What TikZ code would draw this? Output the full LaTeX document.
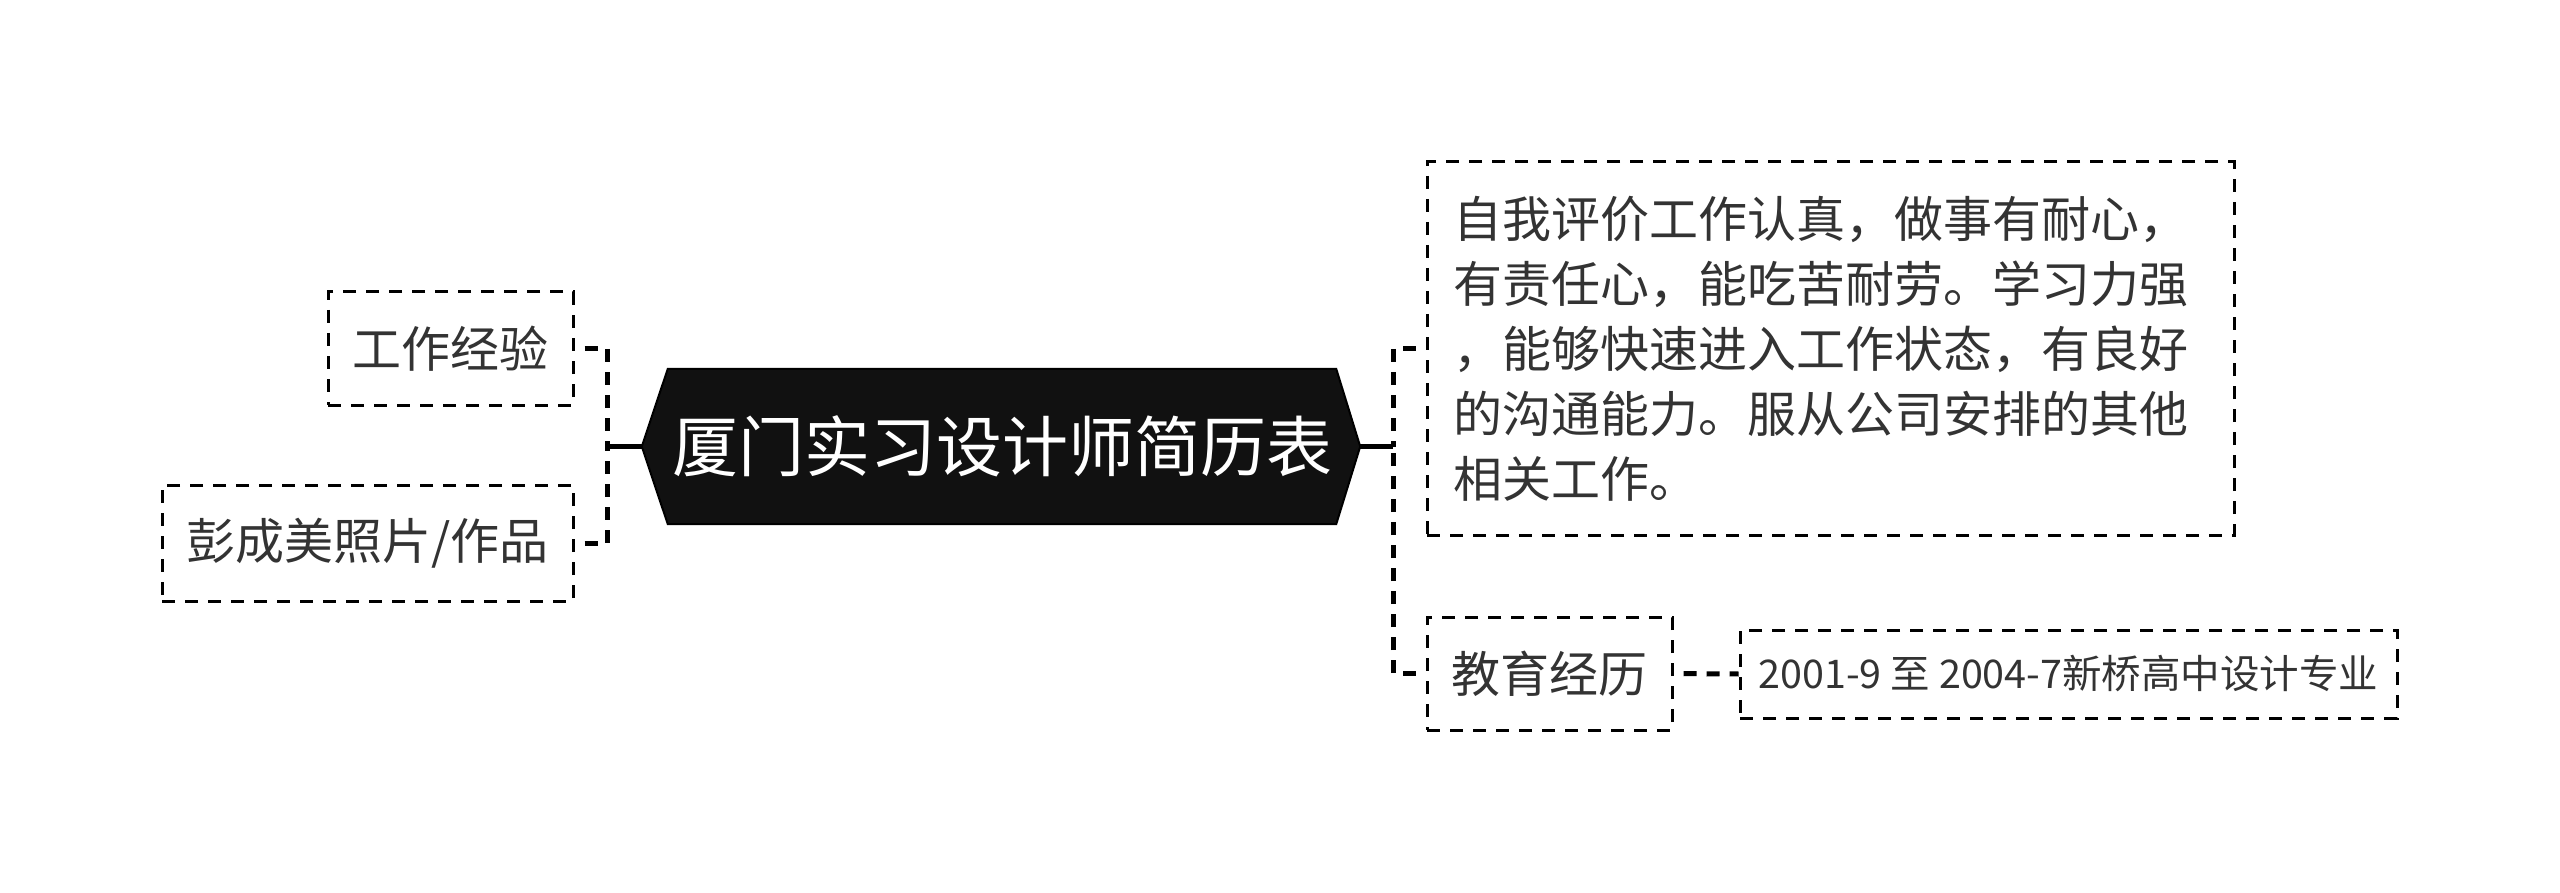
\documentclass[tikz,border=0pt]{standalone}
\usepackage{fontspec}
\newfontfamily\cjk{Noto Sans CJK SC}
\usetikzlibrary{calc,backgrounds}
\definecolor{txt}{HTML}{333333}
\definecolor{hexfill}{HTML}{111111}
\begin{document}
\begin{tikzpicture}[x=1pt,y=-1pt,
  dbox/.style={draw=black, line width=3pt, dash pattern=on 13pt off 10pt, inner sep=0pt, text=txt, font=\cjk\fontsize{49}{65}\selectfont},
  rootnode/.style={inner sep=0pt, text=white, font=\cjk\fontsize{66}{72}\selectfont, minimum width=668pt, minimum height=155pt},
  conn/.style={line width=5pt, draw=black},
  dconn/.style={conn, dash pattern=on 13pt off 10pt, dash phase=13pt},
]
\useasboundingbox (0,0) rectangle (2560,893);
% root
\node[rootnode] (root) at (1002,446.5) {厦门实习设计师简历表};
\coordinate (rootW) at ($(root.west)+(-26,0)$);
\coordinate (rootE) at ($(root.east)+(24,0)$);
\begin{scope}[on background layer]
\filldraw[fill=hexfill, draw=black, line width=2pt] (root.north west) -- (root.north east) -- (rootE) -- (root.south east) -- (root.south west) -- (rootW) -- cycle;
\end{scope}
% left children
\node[dbox, minimum width=245pt, minimum height=113pt] (w1) at (450.5,348.5) {工作经验};
\node[dbox, minimum width=411pt, minimum height=116pt] (w2) at (367.5,543) {彭成美照片/作品};
% right children
\node[dbox, minimum width=807pt, minimum height=373pt, text width=755pt, inner xsep=26pt, align=left] (r1) at (1830.5,348.5) {自我评价工作认真，做事有耐心，\\有责任心，能吃苦耐劳。学习力强\\，能够快速进入工作状态，有良好\\的沟通能力。服从公司安排的其他\\相关工作。};
\node[dbox, minimum width=245pt, minimum height=113pt] (r2) at (1549.5,673.5) {教育经历};
\node[dbox, minimum width=657pt, minimum height=88pt, font=\cjk\fontsize{39.5}{44}\selectfont] (r3) at (2068.5,674) {2001-9 至 2004-7新桥高中设计专业};
% connectors
\coordinate (ls) at (607,446.5);
\coordinate (rs) at (1393,446.5);
\draw[conn] (rootW) -- (ls);
\draw[dconn] (w1.east) -| (ls);
\draw[dconn] (w2.east) -| (ls);
\draw[conn] (rootE) -- (rs);
\draw[dconn] (r1.west) -| (rs);
\draw[dconn] (r2.west) -| (rs);
\draw[dconn] (r2.east) -- (r3.west);
\end{tikzpicture}
\end{document}
